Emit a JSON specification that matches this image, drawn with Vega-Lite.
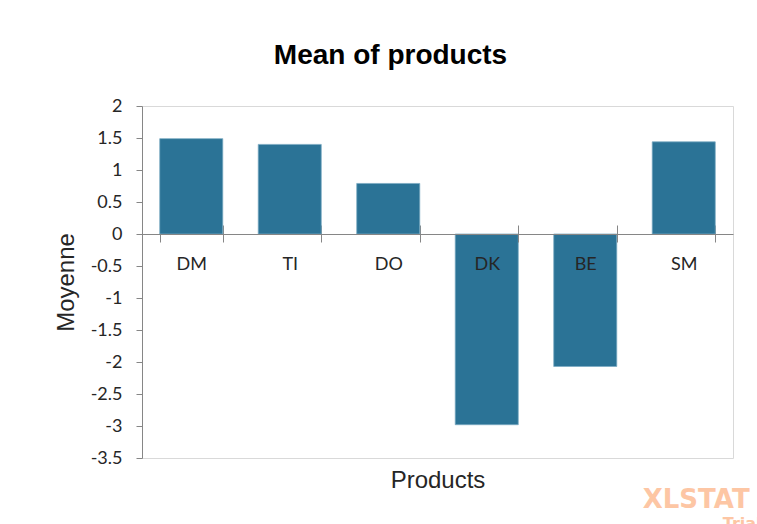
{
  "$schema": "https://vega.github.io/schema/vega-lite/v6.json",
  "width": 591,
  "height": 352,
  "autosize": {"type": "none"},
  "padding": {"left": 142, "top": 106, "right": 24, "bottom": 66},
  "background": "white",
  "title": {
    "text": "Mean of products",
    "font": "Liberation Sans",
    "fontSize": 28,
    "fontWeight": "bold",
    "color": "#000000",
    "anchor": "middle",
    "frame": "group",
    "dx": -47,
    "offset": 5,
    "baseline": "alphabetic"
  },
  "config": {"view": {"stroke": "#d9d9d9", "strokeWidth": 1}},
  "data": {
    "values": [
      {"Product": "DM", "Mean": 1.49},
      {"Product": "TI", "Mean": 1.40},
      {"Product": "DO", "Mean": 0.79},
      {"Product": "DK", "Mean": -2.98},
      {"Product": "BE", "Mean": -2.07},
      {"Product": "SM", "Mean": 1.44}
    ]
  },
  "resolve": {"axis": {"x": "independent", "y": "independent"}},
  "layer": [
    {
      "mark": {"type": "bar", "color": "#2b7396", "stroke": "#7aa9c2", "strokeWidth": 0.75},
      "encoding": {
        "x": {
          "field": "Product",
          "type": "nominal",
          "sort": null,
          "scale": {"domain": ["DM", "TI", "DO", "DK", "BE", "SM"], "paddingInner": 0.36, "paddingOuter": 0.18},
          "axis": {
            "orient": "bottom",
            "offset": -224,
            "tickBand": "extent",
            "tickSize": 8,
            "tickColor": "#868686",
            "domainColor": "#868686",
            "labelFont": "Lato",
            "labelFontSize": 18,
            "labelColor": "#262626",
            "labelPadding": 27,
            "labelBaseline": "alphabetic",
            "labelAngle": 0,
            "labelOverlap": false,
            "grid": false,
            "title": "Products",
            "titleFont": "Liberation Sans",
            "titleFontSize": 24,
            "titleFontWeight": "normal",
            "titleColor": "#262626",
            "titleY": 253,
            "titleBaseline": "alphabetic",
            "zindex": 1
          }
        },
        "y": {
          "field": "Mean",
          "type": "quantitative",
          "scale": {"domain": [-3.5, 2], "nice": false, "zero": false},
          "axis": {
            "orient": "left",
            "values": [-3.5, -3, -2.5, -2, -1.5, -1, -0.5, 0, 0.5, 1, 1.5, 2],
            "labelExpr": "toString(datum.value)",
            "tickSize": 6,
            "tickColor": "#868686",
            "domainColor": "#868686",
            "labelFont": "Lato",
            "labelFontSize": 18,
            "labelColor": "#262626",
            "labelPadding": 14,
            "labelFlush": false,
            "labelOverlap": false,
            "grid": false,
            "title": "Moyenne",
            "titleFont": "Liberation Sans",
            "titleFontSize": 24,
            "titleFontWeight": "normal",
            "titleColor": "#262626",
            "titleAngle": -90,
            "titleX": -69,
            "titleY": 176,
            "titleAlign": "center",
            "titleBaseline": "alphabetic",
            "zindex": 1
          }
        }
      }
    },
    {
      "data": {"values": [{}]},
      "mark": {"type": "text", "text": "XLSTAT", "font": "DejaVu Sans", "fontWeight": "bold", "fontSize": 26, "color": "#fdc6a4", "align": "left", "baseline": "top", "dx": -41, "dy": -3},
      "encoding": {
        "x": {
          "datum": "SM",
          "type": "nominal",
          "axis": {
            "orient": "top",
            "offset": -128,
            "tickBand": "extent",
            "tickSize": 9,
            "tickColor": "#868686",
            "labels": false,
            "domain": false,
            "grid": false,
            "title": null
          }
        },
        "y": {"datum": -4.0, "type": "quantitative", "axis": null}
      }
    },
    {
      "data": {"values": [{}]},
      "mark": {"type": "text", "text": "Trial", "font": "DejaVu Sans", "fontWeight": "bold", "fontSize": 16, "color": "#fdc6a4", "align": "left", "baseline": "top", "dx": 39},
      "encoding": {
        "x": {"datum": "SM", "type": "nominal", "axis": null},
        "y": {"datum": -4.406, "type": "quantitative", "axis": null}
      }
    }
  ]
}
